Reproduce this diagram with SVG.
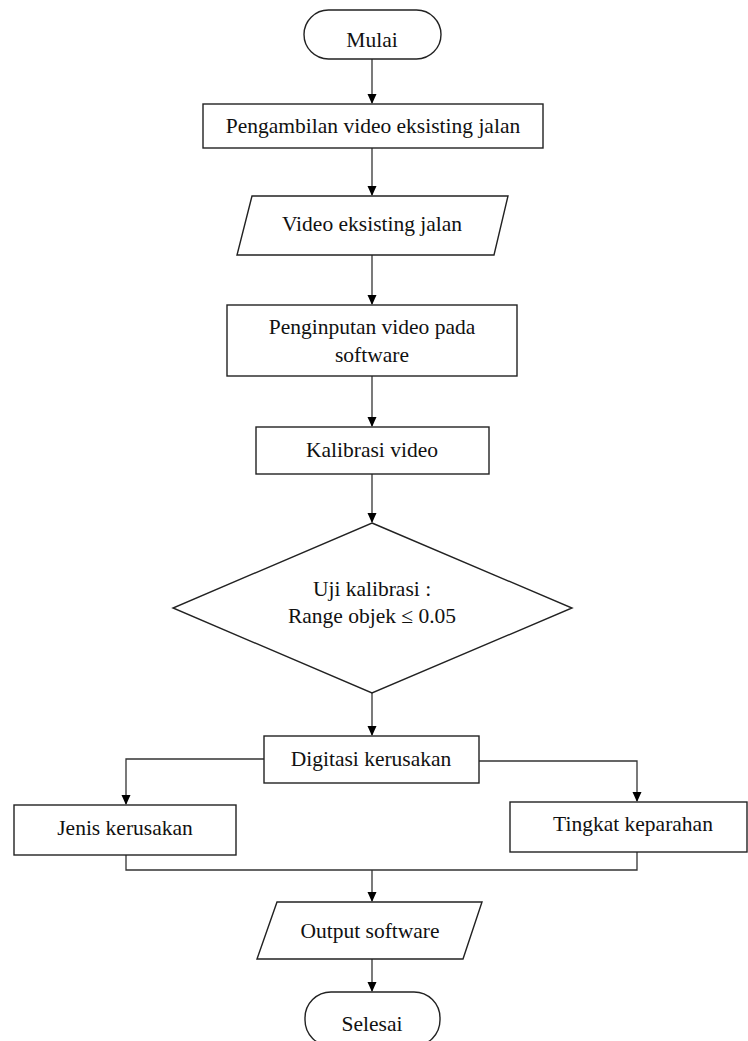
<svg xmlns="http://www.w3.org/2000/svg" width="748" height="1041" viewBox="0 0 748 1041">
<style>
.s{fill:#fff;stroke:#222;stroke-width:1.4}
.c{fill:none;stroke:#333;stroke-width:1.3}
text{font-family:"Liberation Serif","Times New Roman",serif;font-size:21.5px;fill:#111;text-anchor:middle}
</style>
<defs>
<marker id="ah" markerWidth="10" markerHeight="10" refX="9" refY="5" orient="auto" markerUnits="userSpaceOnUse">
<path d="M0,0.5 L10,5 L0,9.5 Z" fill="#000"/>
</marker>
</defs>
<rect width="748" height="1041" fill="#fff"/>
<g id="connectors">
<path class="c" d="M372,59 V103" marker-end="url(#ah)"/>
<path class="c" d="M372,148 V195" marker-end="url(#ah)"/>
<path class="c" d="M372,255 V304" marker-end="url(#ah)"/>
<path class="c" d="M372,376 V426" marker-end="url(#ah)"/>
<path class="c" d="M372,474 V522" marker-end="url(#ah)"/>
<path class="c" d="M372,693 V735" marker-end="url(#ah)"/>
<path class="c" d="M264,759 H126 V804" marker-end="url(#ah)"/>
<path class="c" d="M479,761 H637 V801" marker-end="url(#ah)"/>
<path class="c" d="M126,855 V870 H637 V852"/>
<path class="c" d="M372,870 V901" marker-end="url(#ah)"/>
<path class="c" d="M372,959 V991" marker-end="url(#ah)"/>
</g>
<g id="mulai">
<rect class="s" x="304" y="10" width="137" height="49" rx="24.5"/>
<text x="372" y="47">Mulai</text>
</g>
<g id="pengambilan">
<rect class="s" x="203" y="104" width="340" height="44"/>
<text x="373" y="133">Pengambilan video eksisting jalan</text>
</g>
<g id="video">
<polygon class="s" points="252,196 508,196 494,255 237,255"/>
<text x="372" y="231">Video eksisting jalan</text>
</g>
<g id="penginputan">
<rect class="s" x="227" y="305" width="290" height="71"/>
<text x="372" y="334">Penginputan video pada</text>
<text x="372" y="362">software</text>
</g>
<g id="kalibrasi">
<rect class="s" x="256" y="427" width="233" height="47"/>
<text x="372" y="457">Kalibrasi video</text>
</g>
<g id="uji">
<polygon class="s" points="372,523 572,608 372,693 173,608"/>
<text x="372" y="596">Uji kalibrasi :</text>
<text x="372" y="623">Range objek ≤ 0.05</text>
</g>
<g id="digitasi">
<rect class="s" x="264" y="736" width="215" height="47"/>
<text x="371" y="766">Digitasi kerusakan</text>
</g>
<g id="jenis">
<rect class="s" x="14" y="805" width="222" height="50"/>
<text x="125" y="835">Jenis kerusakan</text>
</g>
<g id="tingkat">
<rect class="s" x="510" y="802" width="237" height="50"/>
<text x="633" y="831">Tingkat keparahan</text>
</g>
<g id="output">
<polygon class="s" points="277,902 482,902 463,959 257,959"/>
<text x="370" y="938">Output software</text>
</g>
<g id="selesai">
<rect class="s" x="305" y="992" width="135" height="54" rx="26"/>
<text x="372" y="1031">Selesai</text>
</g>
</svg>
